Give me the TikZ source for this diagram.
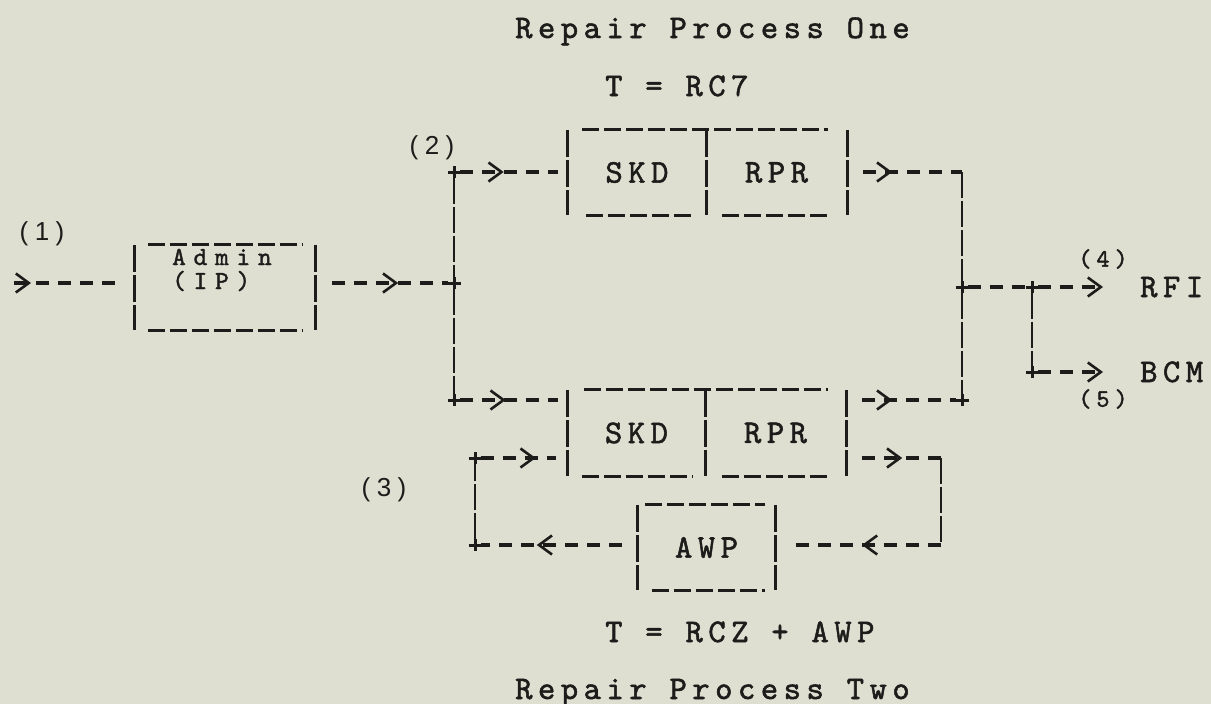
\documentclass[tikz,border=0pt]{standalone}
\usepackage{fontspec}
\usetikzlibrary{arrows.meta,decorations.markings,calc}
\newfontfamily\twA{lmmono10-regular.otf}[LetterSpace=16.7, FakeBold=1.6]
\newfontfamily\twB{lmmono10-regular.otf}[LetterSpace=30, FakeBold=1.6]
\newfontfamily\twC{lmmono10-regular.otf}[LetterSpace=20, FakeBold=1.6]
\newfontfamily\sfl{Liberation Sans}[LetterSpace=25]
\definecolor{paper}{RGB}{222,222,209}
\definecolor{ink}{RGB}{28,28,26}
\begin{document}
\begin{tikzpicture}[x=1pt,y=-1pt,
  hline/.style={draw=ink, line width=3.3pt, dash pattern=on 13pt off 9pt},
  vline/.style={draw=ink, line width=2.8pt, dash pattern=on 26pt off 3pt},
  boxh/.style={draw=ink, line width=3.3pt, dash pattern=on 17pt off 5pt},
  boxv/.style={draw=ink, line width=2.8pt, dash pattern=on 27pt off 3pt},
  midarr/.style={postaction={decorate, decoration={markings, mark=at position #1 with {\arrow[ink]{Straight Barb[length=13pt, width=19pt, line width=2.6pt]}}}}},
  endarr/.style={-{Straight Barb[length=13pt, width=19pt, line width=2.6pt]}},
  plusmark/.style={inner sep=0pt, minimum size=11pt},
  boxn/.style={inner sep=0pt, minimum height=85pt, text=ink, font=\twA\fontsize{33}{33}\selectfont},
  txtA/.style={inner sep=0pt, anchor=base west, text=ink, font=\twA\fontsize{33}{33}\selectfont},
  txtB/.style={inner sep=0pt, anchor=base west, text=ink, font=\twB\fontsize{26}{26}\selectfont},
  txtC/.style={inner sep=0pt, text=ink, font=\twC\fontsize{25}{25}\selectfont},
  lbl/.style={inner sep=0pt, text=ink, font=\sfl\fontsize{26}{26}\selectfont}
]
\fill[paper] (0,0) rectangle (1211,704);
\useasboundingbox (0,0) rectangle (1211,704);

% titles
\node[txtA] (title1) at (515,38) {Repair Process One};
\node[txtA] (eq1) at (605,96) {T = RC7};
\node[txtA] (eq2) at (605,642) {T = RCZ + AWP};
\node[txtA] (title2) at (515,699) {Repair Process Two};

% boxes
\node[boxn, minimum width=180pt] (admin) at (225,287.5) {};
\node[txtB] (admintxt) at (172,265) {Admin};
\node[txtB] (iptxt) at (172,289) {(IP)};
\node[boxn, minimum width=138pt] (skd1) at (637,172.5) {SKD};
\node[boxn, minimum width=141pt] (rpr1) at (776.5,172.5) {RPR};
\node[boxn, minimum width=137pt, minimum height=86pt] (skd2) at (636.5,433) {SKD};
\node[boxn, minimum width=141pt, minimum height=86pt] (rpr2) at (775.5,433) {RPR};
\node[boxn, minimum width=137pt] (awp) at (706.5,547.5) {AWP};

% box outlines
\draw[boxv] (admin.north west) -- (admin.south west);
\draw[boxv] (admin.north east) -- (admin.south east);
\draw[boxh] ([xshift=13pt]admin.north west) -- ([xshift=-13pt]admin.north east);
\draw[boxh] ([xshift=13pt]admin.south west) -- ([xshift=-13pt]admin.south east);

\draw[boxv] (skd1.north west) -- (skd1.south west);
\draw[boxv] (skd1.north east) -- (skd1.south east);
\draw[boxv] (rpr1.north east) -- (rpr1.south east);
\draw[boxh] ([xshift=14pt]skd1.north west) -- ([xshift=-19pt]rpr1.north east);
\draw[boxh] ([xshift=18pt]skd1.south west) -- ([xshift=-14pt]skd1.south east);
\draw[boxh] ([xshift=16pt]rpr1.south west) -- ([xshift=-18pt]rpr1.south east);

\draw[boxv] (skd2.north west) -- (skd2.south west);
\draw[boxv] (skd2.north east) -- (skd2.south east);
\draw[boxv] (rpr2.north east) -- (rpr2.south east);
\draw[boxh] ([xshift=16pt]skd2.north west) -- ([xshift=-18pt]rpr2.north east);
\draw[boxh] ([xshift=14pt]skd2.south west) -- ([xshift=-12pt]skd2.south east);
\draw[boxh] ([xshift=17pt]rpr2.south west) -- ([xshift=-16pt]rpr2.south east);

\draw[boxv] (awp.north west) -- (awp.south west);
\draw[boxv] (awp.north east) -- (awp.south east);
\draw[boxh] ([xshift=7pt]awp.north west) -- ([xshift=-10pt]awp.north east);
\draw[boxh] ([xshift=14pt]awp.south west) -- ([xshift=-10pt]awp.south east);

% junctions
\node[plusmark] (j1) at (454,283) {};
\node[plusmark] (j2) at (454,172) {};
\node[plusmark] (j3) at (454,400) {};
\node[plusmark] (j4) at (962,287) {};
\node[plusmark] (j5) at (962,400) {};
\node[plusmark] (j6) at (1032,287) {};
\node[plusmark] (j7) at (1032,372) {};
\node[plusmark] (j8) at (475,545) {};
\node[plusmark] (j9) at (475,458) {};
\coordinate (in) at (14,283);
\coordinate (c1) at (962,172);
\coordinate (c2) at (941,458);
\coordinate (c3) at (941,545);

% outputs
\node[txtA] (rfi) at (1140,297) {RFI};
\node[txtA] (bcm) at (1140,382) {BCM};

% labels
\node[lbl] (n1) at (42,234) {(1)};
\node[lbl] (n2) at (432,148) {(2)};
\node[lbl] (n3) at (384,490) {(3)};
\node[txtC] (n4) at (1103,259) {(4)};
\node[txtC] (n5) at (1103,399) {(5)};

% connectors
\draw[hline, midarr=17pt] (in) -- ($(in -| admin.west)+(-17,0)$);
\draw[hline, midarr=66pt] ($(admin.east |- j1)+(17,0)$) -- (j1);
\draw[vline] (j2) -- (j1);
\draw[vline] (j1) -- (j3);
\draw[hline, midarr=44pt] (j2) -- ($(skd1.west |- j2)+(-10,0)$);
\draw[hline, midarr=29pt] ($(rpr1.east |- c1)+(16,0)$) -- (c1);
\draw[vline] (c1) -- (j4);
\draw[vline] (j4) -- (j5);
\draw[hline, midarr=46pt] (j3) -- ($(skd2.west |- j3)+(-10,0)$);
\draw[hline, midarr=30pt] ($(rpr2.east |- j5)+(16,0)$) -- (j5);
\draw[hline] (j4) -- (j6);
\draw[hline, endarr] (j6) -- ($(rfi.west |- j6)+(-37,0)$);
\draw[vline] (j6) -- (j7);
\draw[hline, endarr] (j7) -- ($(bcm.west |- j7)+(-37,0)$);
\draw[hline, midarr=40pt] ($(rpr2.east |- c2)+(16,0)$) -- (c2);
\draw[vline] (c2) -- (c3);
\draw[hline, midarr=79pt] (c3) -- ($(awp.east |- c3)+(17,0)$);
\draw[hline, midarr=85pt] ($(awp.west |- j8)+(-16,0)$) -- (j8);
\draw[vline] (j8) -- (j9);
\draw[hline, midarr=55pt] (j9) -- ($(skd2.west |- j9)+(-12,0)$);

% junction plus marks
\foreach \j in {j1,j2,j3,j4,j5,j6,j7,j8,j9}
  \draw[ink, line width=3pt] ([xshift=-6.5pt]\j.center) -- ([xshift=6.5pt]\j.center)
                             ([yshift=-6pt]\j.center) -- ([yshift=6pt]\j.center);
\end{tikzpicture}
\end{document}
